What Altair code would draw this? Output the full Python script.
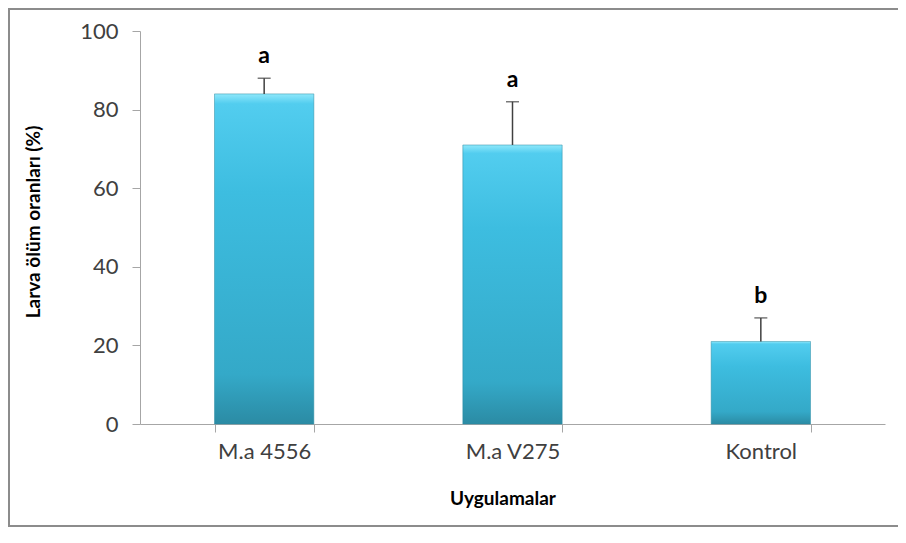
import altair as alt
import pandas as pd

categories = ["M.a 4556", "M.a V275", "Kontrol"]
means = [84, 71, 21]
errs = [4, 11, 6]
letters = ["a", "a", "b"]
y_ticks = [0, 20, 40, 60, 80, 100]

df = pd.DataFrame({
    "cat": categories,
    "mean": means,
    "top": [m + e for m, e in zip(means, errs)],
    "letter": letters,
})

W, H = 745, 393
FONT = "Lato"

x_enc = alt.X("cat:N", sort=categories,
              scale=alt.Scale(paddingInner=0.6, paddingOuter=0.3),
              axis=alt.Axis(title="Uygulamalar", labelAngle=0, tickBand="extent",
                            tickSize=8, tickColor="#a6a6a6", domainColor="#a6a6a6",
                            labelFont=FONT, labelFontSize=22, labelColor="#404040",
                            labelPadding=9,
                            titleFont=FONT, titleFontSize=19, titleFontWeight="bold",
                            titleColor="black", titleX=W / 2 - 10, titleY=74,
                            titleBaseline="middle"))

y_scale = alt.Scale(domain=[0, 100], nice=False)

base = alt.Chart(df)

bars = base.mark_bar(
    color={"gradient": "linear", "x1": 0, "y1": 0, "x2": 0, "y2": 1,
           "stops": [{"offset": 0, "color": "#8fe8fb"},
                     {"offset": 0.03, "color": "#52cdef"},
                     {"offset": 0.3, "color": "#3dbde0"},
                     {"offset": 0.85, "color": "#34a9c8"},
                     {"offset": 1, "color": "#2b8ba4"}]},
    stroke="#2b8aa3", strokeWidth=0.5
).encode(
    x=x_enc,
    y=alt.Y("mean:Q", scale=y_scale,
            axis=alt.Axis(values=y_ticks, grid=False, title="Larva ölüm oranları (%)",
                          tickSize=8, tickColor="#a6a6a6", domainColor="#a6a6a6",
                          labelFont=FONT, labelFontSize=22, labelColor="#404040",
                          labelPadding=14,
                          titleFont=FONT, titleFontSize=19, titleFontWeight="bold",
                          titleColor="black", titleX=-107, titleY=H / 2 - 6,
                          titleAngle=270, titleAlign="center", titleBaseline="middle")),
)

err_line = base.mark_rule(color="#404040", strokeWidth=1.5).encode(
    x=alt.X("cat:N", sort=categories),
    y=alt.Y("mean:Q", scale=y_scale),
    y2="top:Q",
)

caps = base.mark_tick(orient="horizontal", size=13, thickness=1.5, color="#404040").encode(
    x=alt.X("cat:N", sort=categories),
    y=alt.Y("top:Q", scale=y_scale),
)

labels = base.mark_text(font=FONT, fontSize=23, fontWeight="bold", color="black",
                        baseline="bottom", dy=-10).encode(
    x=alt.X("cat:N", sort=categories),
    y=alt.Y("top:Q", scale=y_scale),
    text="letter:N",
)

frame_df = pd.DataFrame({"k": [0]})
frame = alt.Chart(frame_df)
border_left = frame.mark_rule(color="#8c8c8c", strokeWidth=2).encode(
    x=alt.value(-131), y=alt.value(-22), y2=alt.value(496))
border_top = frame.mark_rule(color="#8c8c8c", strokeWidth=2).encode(
    x=alt.value(-132), x2=alt.value(770), y=alt.value(-22))
border_bottom = frame.mark_rule(color="#8c8c8c", strokeWidth=2).encode(
    x=alt.value(-132), x2=alt.value(770), y=alt.value(495))

chart = alt.layer(bars, err_line, caps, labels, border_left, border_top, border_bottom).properties(
    width=W, height=H,
    autosize=alt.AutoSizeParams(type="none"),
    padding={"left": 132, "top": 23, "right": 13, "bottom": 104},
).configure(background="white").configure_view(strokeWidth=0, stroke="transparent")

chart.save("out.html", embed_options={"renderer": "svg", "actions": False})
